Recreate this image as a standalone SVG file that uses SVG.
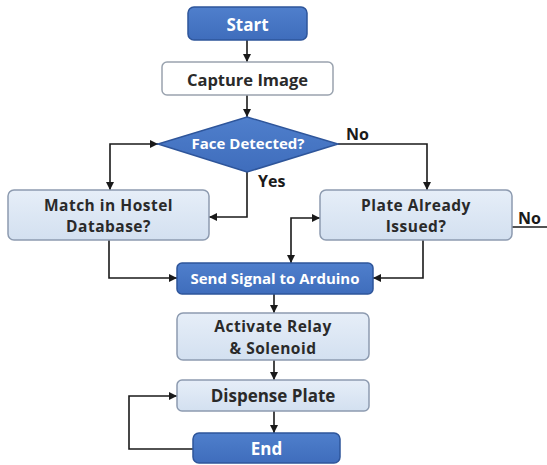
<svg xmlns="http://www.w3.org/2000/svg" width="547" height="465" viewBox="0 0 547 465">
<defs>
<marker id="arr" viewBox="0 0 10 10" refX="10" refY="5" markerWidth="8" markerHeight="8" markerUnits="userSpaceOnUse" orient="auto-start-reverse">
<path d="M0,0 L10,5 L0,10 z" fill="#1a1a1a"/>
</marker>
<linearGradient id="lg" x1="0" y1="0" x2="0" y2="1">
<stop offset="0" stop-color="#E6EEF8"/>
<stop offset="1" stop-color="#D3E0F0"/>
</linearGradient>
<linearGradient id="bg" x1="0" y1="0" x2="0" y2="1">
<stop offset="0" stop-color="#4F7FCC"/>
<stop offset="1" stop-color="#3F6DBC"/>
</linearGradient>
</defs>
<style>
text{font-family:"Open Sans","Liberation Sans",sans-serif;font-weight:700;text-anchor:middle;dominant-baseline:central}
.dark{fill:url(#bg);stroke:#2E559A;stroke-width:1.5}
.light{fill:url(#lg);stroke:#8D9BB0;stroke-width:1.5}
.white{fill:#FFFFFF;stroke:#9AA3AF;stroke-width:1.5}
.wt{fill:#FFFFFF;font-size:15px}
.bt{fill:#2A2A2A;font-size:16.5px}
.bt2{fill:#2A2A2A;font-size:15.5px;letter-spacing:0.5px}
.lbl{fill:#1a1a1a;font-size:16px;font-weight:700;text-anchor:start}
.c{fill:none;stroke:#1a1a1a;stroke-width:1.6}
</style>
<rect width="547" height="465" fill="#FFFFFF"/>
<g id="connectors">
<path class="c" d="M247 40 V62" marker-end="url(#arr)"/>
<path class="c" d="M247 95 V117" marker-end="url(#arr)"/>
<path class="c" d="M110 190 V144 H158" marker-start="url(#arr)" marker-end="url(#arr)"/>
<path class="c" d="M338 144 H427 V190" marker-end="url(#arr)"/>
<path class="c" d="M247 172 V217 H209" marker-end="url(#arr)"/>
<path class="c" d="M291 263 V218 H320" marker-start="url(#arr)" marker-end="url(#arr)"/>
<path class="c" d="M109 240 V278 H177" marker-end="url(#arr)"/>
<path class="c" d="M423 240 V278 H373" marker-end="url(#arr)"/>
<path class="c" d="M274 294 V313" marker-end="url(#arr)"/>
<path class="c" d="M274 360 V380" marker-end="url(#arr)"/>
<path class="c" d="M274 411 V433" marker-end="url(#arr)"/>
<path class="c" d="M193 449 H129 V396 H177" marker-end="url(#arr)"/>
<path class="c" d="M512 227 H547"/>
<text class="lbl" x="346" y="134">No</text>
<text class="lbl" x="258" y="181">Yes</text>
<text class="lbl" x="518" y="218">No</text>
</g>
<g id="start">
<rect class="dark" x="188" y="7" width="119" height="33" rx="6"/>
<text class="wt" x="247.5" y="24" style="font-size:17px">Start</text>
</g>
<g id="capture">
<rect class="white" x="162" y="62" width="171" height="33" rx="5"/>
<text class="bt" x="247.5" y="79">Capture Image</text>
</g>
<g id="face">
<polygon class="dark" points="247,117 338,144 247,172 158,144"/>
<text class="wt" x="248" y="143">Face Detected?</text>
</g>
<g id="match">
<rect class="light" x="8" y="190" width="201" height="50" rx="6"/>
<text class="bt2" x="108.5" y="204.5">Match in Hostel</text>
<text class="bt2" x="108.5" y="226">Database?</text>
</g>
<g id="plate">
<rect class="light" x="320" y="190" width="192" height="50" rx="6"/>
<text class="bt2" x="416" y="204.5">Plate Already</text>
<text class="bt2" x="416" y="226">Issued?</text>
</g>
<g id="send">
<rect class="dark" x="177" y="263" width="196" height="31" rx="5"/>
<text class="wt" x="275" y="278">Send Signal to Arduino</text>
</g>
<g id="activate">
<rect class="light" x="177" y="313" width="192" height="47" rx="6"/>
<text class="bt2" x="273" y="326">Activate Relay</text>
<text class="bt2" x="273" y="347.5">&amp; Solenoid</text>
</g>
<g id="dispense">
<rect class="light" x="177" y="380" width="192" height="31" rx="5"/>
<text class="bt" x="273" y="395.5" style="font-size:17px">Dispense Plate</text>
</g>
<g id="end">
<rect class="dark" x="193" y="433" width="147" height="30" rx="6"/>
<text class="wt" x="266.5" y="448" style="font-size:17px">End</text>
</g>
</svg>
